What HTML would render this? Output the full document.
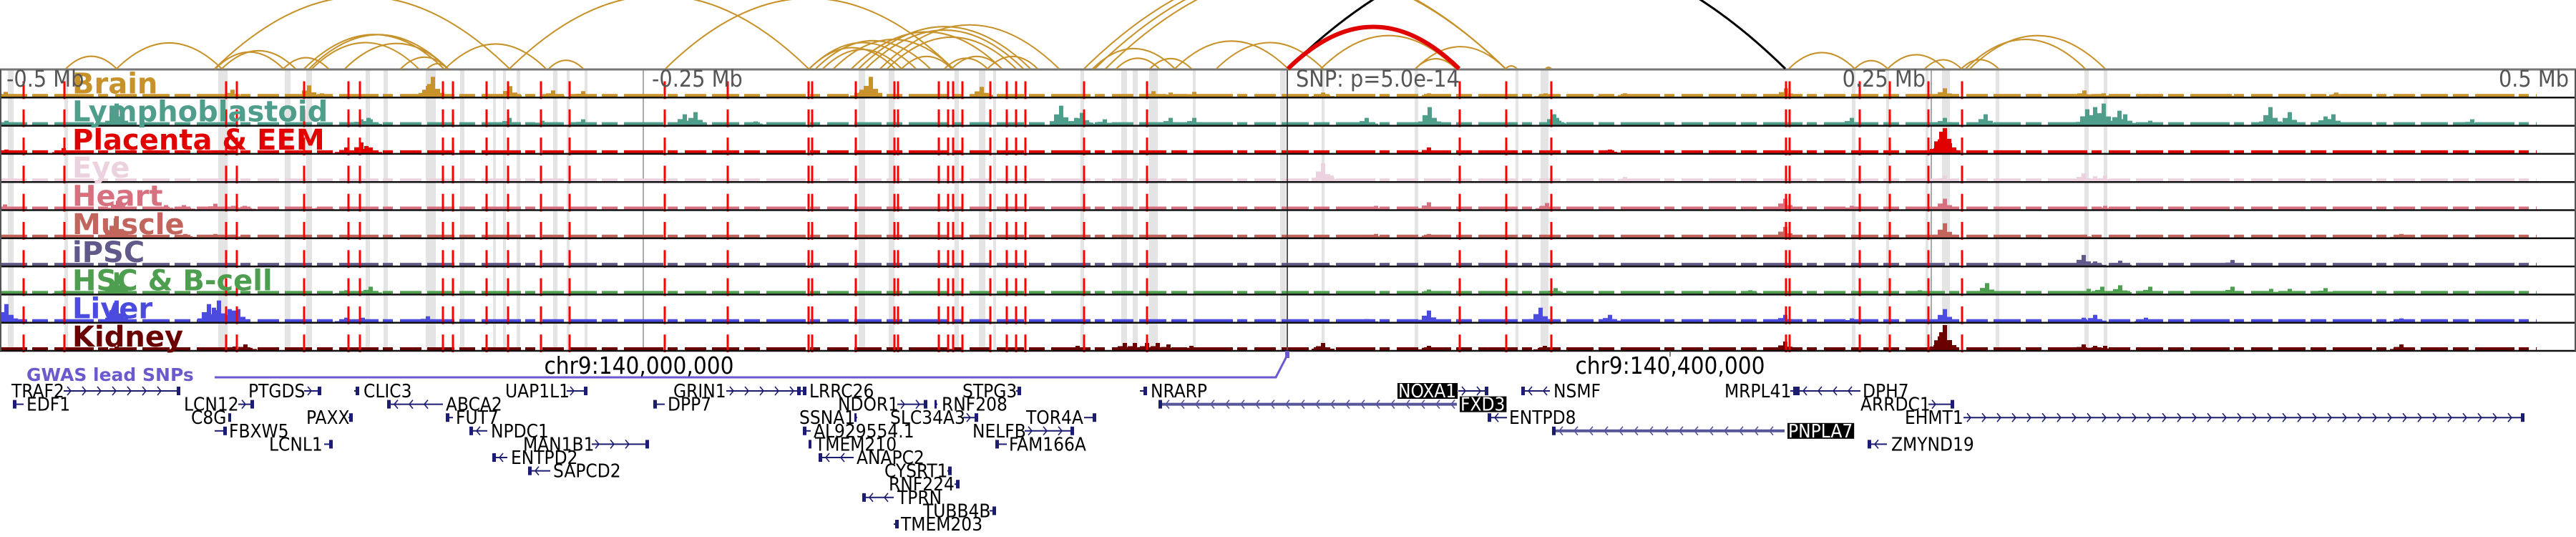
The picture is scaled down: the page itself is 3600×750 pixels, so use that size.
<!DOCTYPE html>
<html><head><meta charset="utf-8">
<style>
html,body{margin:0;padding:0;background:#fff;}
svg{display:block;}
.tick{font-family:"Liberation Sans Narrow","DejaVu Sans Condensed","Liberation Sans",sans-serif;font-size:32px;fill:#555;}
.tl{font-family:"DejaVu Sans","Liberation Sans",sans-serif;font-weight:bold;font-size:40px;}
.gl{font-family:"Liberation Sans Narrow","DejaVu Sans Condensed","Liberation Sans",sans-serif;font-size:26px;fill:#000;}
.chr{font-family:"Liberation Sans Narrow","DejaVu Sans Condensed","Liberation Sans",sans-serif;font-size:33px;fill:#000;}
</style></head>
<body>
<svg id="fig" xmlns="http://www.w3.org/2000/svg" width="3600" height="750" viewBox="0 0 3600 750"></svg>
<script>
// ---- data ----
const arcSpans = [[92,163],[163,310],[301,396],[310,413],[396,459],[425,620],[432,626],[436,585],[482,626],[560,626],[597,626],[622,763],[300,712],[712,1130],[767,815],[930,1332],[1131,1251],[1131,1280],[1140,1300],[1150,1260],[1165,1332],[1190,1400],[1200,1440],[1210,1430],[1230,1480],[1240,1420],[1260,1330],[1320,1380],[1330,1400],[1380,1450],[1515,2104],[1530,2104],[1545,2104],[1527,1642],[1560,1620],[1607,1665],[1642,1800],[1700,1849],[1846,2035],[1978,2035],[1978,2104],[2104,2120],[2160,2168],[2500,2592],[2592,2638],[2638,2718],[2690,2741],[2741,2793],[2747,2914],[2753,2942]];
const leadArc = [1800,2039];
const blackArc = [1800,2495];
const snpLines = [33,90,316,331,425,487,503,619,633,680,710,756,796,929,1017,1130,1135,1196,1250,1255,1312,1325,1332,1345,1384,1407,1420,1433,1515,1603,2040,2105,2168,2496,2501,2599,2641,2695,2742];
const grayBands = [[11,19],[90,95],[305,318],[398,406],[428,436],[511,517],[536,542],[595,609],[643,649],[689,693],[703,707],[722,727],[773,779],[792,796],[817,821],[1200,1209],[1242,1250],[1334,1340],[1368,1377],[1388,1392],[1510,1515],[1567,1575],[1583,1590],[1606,1618],[1667,1671],[1789,1797],[1847,1851],[1977,1982],[2118,2122],[2153,2164],[2588,2593],[2636,2640],[2691,2695],[2714,2725],[2789,2794],[2913,2919],[2940,2945]];
const trackNames = ["Brain","Lymphoblastoid","Placenta & EEM","Eye","Heart","Muscle","iPSC","HSC & B-cell","Liver","Kidney"];
const trackColors = ["#c8922a","#4f9e8c","#e00000","#ecd2de","#d8717f","#c2655c","#605a8a","#4e9e50","#4b4be0","#6b0000"];
const brainPeaks = [[8,7],[325,10],[432,16],[450,5],[595,10],[600,18],[605,28],[713,15],[773,9],[815,8],[1204,10],[1210,12],[1217,28],[1372,14],[1612,8],[1636,6],[1669,7],[1849,6],[1997,5],[2160,5],[2241,3],[2271,5],[2496,12],[2718,12],[2913,9],[2940,5],[3001,4],[3116,4],[3200,3],[3265,6],[3349,2]];
const lymphPeaks = [[9,6],[163,30],[505,8],[518,8],[515,10],[712,10],[758,6],[815,8],[957,15],[972,18],[1056,5],[1483,27],[1504,10],[1512,17],[1544,8],[1636,10],[1669,10],[1910,10],[1998,25],[2172,15],[2176,10],[2588,10],[2718,10],[2775,15],[2917,22],[2928,25],[2940,30],[2962,20],[2970,15],[3005,6],[3173,25],[3200,18],[3250,12],[3261,15],[3455,8]];
const placentaPeaks = [[9,5],[89,7],[484,8],[505,15],[512,10],[518,8],[1997,8],[2250,5],[2713,30],[2718,35],[2724,20]];
const eyePeaks = [[1849,25],[1861,8],[2165,4],[2271,6],[2718,8],[2912,11],[2928,7],[2942,8]];
const heartPeaks = [[7,7],[165,12],[232,6],[257,6],[301,8],[326,5],[342,5],[431,4],[451,4],[1923,5],[1997,10],[2162,9],[2495,15],[2588,5],[2718,15],[2942,5]];
const musclePeaks = [[7,4],[163,30],[259,5],[301,5],[326,4],[1923,5],[1997,5],[2495,15],[2718,20],[2912,4],[3356,5]];
const ipscPeaks = [[1849,3],[2912,15],[2928,6],[2963,7],[3120,8]];
const hscPeaks = [[89,5],[163,30],[484,5],[518,10],[1997,6],[2174,8],[2446,5],[2683,5],[2777,15],[2919,7],[2938,10],[2963,12],[3005,10],[3120,10],[3174,7],[3200,7],[3250,8]];
const liverPeaks = [[9,25],[163,30],[292,25],[299,20],[306,30],[321,18],[327,16],[333,18],[484,6],[507,6],[598,8],[1910,4],[1997,16],[2153,20],[2250,10],[2495,10],[2588,5],[2718,18],[2912,6],[2928,10],[2999,6],[3356,5]];
const kidneyPeaks = [[9,4],[163,5],[328,5],[343,8],[1321,4],[1506,6],[1572,10],[1586,10],[1603,10],[1618,10],[1633,8],[1665,6],[1849,10],[1997,6],[2159,6],[2495,12],[2713,25],[2718,35],[2912,8],[2928,6],[2942,6],[3356,8]];
const trackPeaks = [brainPeaks,lymphPeaks,placentaPeaks,eyePeaks,heartPeaks,musclePeaks,ipscPeaks,hscPeaks,liverPeaks,kidneyPeaks];
const tickLabels = ["-0.5 Mb","-0.25 Mb","SNP: p=5.0e-14","0.25 Mb","0.5 Mb"];
const tickOffsetsMb = [-0.5,-0.25,0,0.25,0.5];
const geneNames = ["TRAF2","PTGDS","CLIC3","UAP1L1","GRIN1","LRRC26","STPG3","NRARP","NOXA1","NSMF","MRPL41","DPH7","EDF1","LCN12","ABCA2","DPP7","NDOR1","RNF208","FXD3","ARRDC1","C8G","PAXX","FUT7","SSNA1","SLC34A3","TOR4A","ENTPD8","EHMT1","FBXW5","NPDC1","AL929554.1","NELFB","PNPLA7","LCNL1","MAN1B1","TMEM210","FAM166A","ZMYND19","ENTPD2","ANAPC2","SAPCD2","CYSRT1","RNF224","TPRN","TUBB4B","TMEM203"];
const geneStart = [89,425,495,792,1015,1118,1420,1593,2038,2126,2502,2510,18,333,541,913,1254,1308,1619,2695,319,487,623,1195,1346,1515,2079,2744,300,656,1122,1432,2169,453,827,1130,1391,2610,688,1144,738,1324,1334,1205,1383,1249];
const geneEnd = [251,448,501,820,1118,1126,1426,1602,2079,2166,2510,2600,33,354,619,929,1295,1310,2036,2730,323,492,633,1198,1366,1531,2106,3527,316,681,1133,1500,2494,464,906,1134,1407,2637,709,1193,769,1329,1340,1249,1391,1255];
const geneRow = [1,1,1,1,1,1,1,1,1,1,1,1,2,2,2,2,2,2,2,2,3,3,3,3,3,3,3,3,4,4,4,4,4,5,5,5,5,5,6,6,7,7,8,9,10,11];
const geneStrand = [">",">","",">",">","","","",">","<","","<","<",">","<","<",">","","<",">","","","<","",">","","<",">","","<","<",">","<","",">","","<","<","<","<","<","","","<","",""];
const geneLabelX = [16,347,508,706,941,1131,1345,1608,1954,2171,2410,2603,37,257,623,933,1171,1316,2041,2600,267,428,637,1117,1244,1434,2109,2662,320,686,1137,1359,2499,376,731,1139,1410,2643,714,1197,773,1236,1242,1254,1290,1259];
const geneHighlight = ["NOXA1","FXD3","PNPLA7"];

// ---- layout ----
const NS="http://www.w3.org/2000/svg";
const svg=document.getElementById('fig');
const TOP=97, TH=39.3, NT=10, BOT=TOP+TH*NT;
const SNPX=1799, PXMB=3600;
const xMb = d => SNPX + d*PXMB;
function el(tag, attrs, parent){const e=document.createElementNS(NS,tag);for(const k in attrs)e.setAttribute(k,attrs[k]);(parent||svg).appendChild(e);return e;}

const gBands=el('g',{});


grayBands.forEach(b=>{
  const r=el('rect',{x:b[0],y:TOP,width:b[1]-b[0],height:BOT-TOP,fill:'#e4e4e4'},gBands);
  
  
});
[-0.25,0.25].forEach(d=>{
  const l=el('line',{x1:xMb(d),x2:xMb(d),y1:TOP,y2:BOT,stroke:'#aaa','stroke-width':2});
  
  
});

for(let i=0;i<NT;i++){
  const T=TOP+i*TH, B=T+TH, col=trackColors[i];
  const g=el('g',{});
  
  
  const bl=el('line',{x1:0,x2:3545,y1:B-3,y2:B-3,stroke:col,'stroke-width':4,'stroke-dasharray':'38 7 22 9 55 6 14 10 30 8'},g);
  
  
  trackPeaks[i].forEach(p=>{
    const x=p[0], h=Math.min(p[1],TH-3);
    const c=el('rect',{x:x-3,y:B-1-h,width:6,height:h,fill:col},g);
    
    
    const f1=el('rect',{x:x-10,y:B-1-h*0.55,width:7,height:h*0.55,fill:col},g);
    
    
    const f2=el('rect',{x:x+3,y:B-1-h*0.4,width:7,height:h*0.4,fill:col},g);
    
    
    const f3=el('rect',{x:x-16,y:B-1-h*0.2,width:32,height:h*0.2,fill:col},g);
    
    
  });
}
const sl=el('line',{x1:SNPX,x2:SNPX,y1:TOP,y2:BOT,stroke:'#555','stroke-width':2});


for(let i=0;i<NT;i++){
  const T=TOP+i*TH, B=T+TH;
  snpLines.forEach(x=>{
    const l=el('line',{x1:x,x2:x,y1:T+TH*0.42,y2:B+2,stroke:'#ff0000','stroke-width':3});
    
    
  });
}
for(let i=1;i<=NT;i++){
  const y=TOP+i*TH;
  const l=el('line',{x1:0,x2:3600,y1:y,y2:y,stroke:'#111','stroke-width':2.5});
  
  
}
const tb=el('line',{x1:0,x2:3600,y1:TOP,y2:TOP,stroke:'#777','stroke-width':3});


const lb=el('line',{x1:1,x2:1,y1:TOP,y2:BOT,stroke:'#555','stroke-width':2});


const rb=el('line',{x1:3599,x2:3599,y1:TOP,y2:BOT,stroke:'#555','stroke-width':2});



for(let i=0;i<NT;i++){
  const B=TOP+(i+1)*TH;
  const t=el('text',{x:101,y:B-6,class:'tl',fill:trackColors[i]});
  t.textContent=trackNames[i];
  
  
}
tickLabels.forEach((s,i)=>{
  const d=tickOffsetsMb[i];
  let x=xMb(d), anchor='start';
  if(d===-0.5){x=9;} else if(d<0){x=xMb(d)+12;} else if(d===0){x=SNPX+12;} else if(d===0.5){x=3590;anchor='end';} else {x=xMb(d)-8;anchor='end';}
  const t=el('text',{x:x,y:121,class:'tick','text-anchor':anchor});
  t.textContent=s;
  
  
});

function arc(s,color,w,name){
  const h=0.245*(s[1]-s[0]);
  const p=el('path',{d:`M${s[0]} 96 Q${(s[0]+s[1])/2} ${96-2*h} ${s[1]} 96`,fill:'none',stroke:color,'stroke-width':w});
  
  
}
arcSpans.forEach(s=>arc(s,'#c8922a',2,'interaction-arc'));
arc(blackArc,'#000',3,'lead-interaction-arc');
arc(leadArc,'#e00000',6,'lead-snp-arc');

const c1=el('text',{x:893,y:522,class:'chr','text-anchor':'middle'});
c1.textContent='chr9:140,000,000';


const c2=el('text',{x:2334,y:522,class:'chr','text-anchor':'middle'});
c2.textContent='chr9:140,400,000';


const tk=el('line',{x1:2334,x2:2334,y1:BOT,y2:BOT+8,stroke:'#555','stroke-width':1.5});



const gw=el('text',{x:37,y:532,fill:'#6a5acd','font-family':'DejaVu Sans, Liberation Sans, sans-serif','font-weight':'bold','font-size':'25px'});
gw.textContent='GWAS lead SNPs';


const gp=el('polyline',{points:`300,527 1783,527 1799,496`,fill:'none',stroke:'#6a5acd','stroke-width':3});


const gm=el('rect',{x:1796,y:490,width:6,height:10,fill:'#6a5acd'});



const rowY = r => 546 + (r-1)*18.6;
geneNames.forEach((n,i)=>{
  const y=rowY(geneRow[i]), x1=geneStart[i], x2=geneEnd[i], st=geneStrand[i];
  const hl=geneHighlight.includes(n);
  const g=el('g',{});
  
  
  const col = (x2-x1>250 && st==='<') ? '#55559a' : '#1c1c70';
  const ln=el('line',{x1:x1,x2:x2,y1:y,y2:y,stroke:col,'stroke-width':(x2-x1>250&&st==='<')?4:2},g);
  
  
  if(st){
    for(let x=x1+10;x<x2-6;x+=21){
      const dx = st==='>'?-5:5;
      const c=el('polyline',{points:`${x+dx},${y-6} ${x},${y} ${x+dx},${y+6}`,fill:'none',stroke:col,'stroke-width':1.6},g);
      
      
    }
  }
  const ex=el('rect',{x:(st==='<'?x1:x2-4),y:y-6,width:Math.min(5,Math.max(3,x2-x1)),height:12,fill:'#1c1c70'},g);
  
  
  if(hl){
    const bg=el('rect',{x:geneLabelX[i]-1,y:y-11,width:10,height:22,fill:'#000'},g);
    
    
    const t=el('text',{x:geneLabelX[i],y:y+9,class:'gl',style:'fill:#fff'},g);
    t.textContent=n;
    
    
    bg.setAttribute('width', t.getComputedTextLength()+3);
  } else {
    const t=el('text',{x:geneLabelX[i],y:y+9,class:'gl'},g);
    t.textContent=n;
    
    
  }
});
</script>
</body></html>
